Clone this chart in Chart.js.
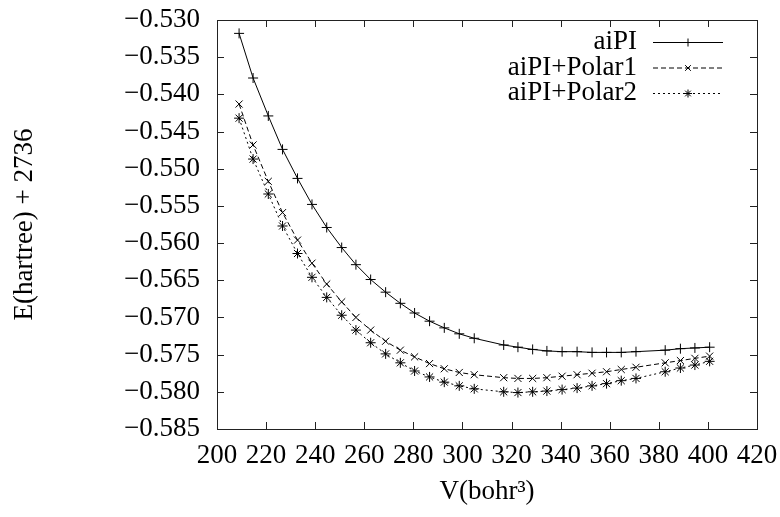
<!DOCTYPE html>
<html lang="en">
<head>
    <meta charset="UTF-8">
    <title>E vs V</title>
    <script src="https://cdn.jsdelivr.net/npm/chart.js"></script>
    <style>
        html, body {
            margin: 0;
            padding: 0;
            background: #ffffff;
        }
        #plot {
            display: block;
        }
    </style>
</head>
<body>
    <canvas id="plot" width="780" height="517"></canvas>

    <script>
        // Cell volumes (bohr^3) and total energies (hartree, shifted by +2736)
        const volumes = [209.0, 214.7, 220.9, 226.7, 232.8, 238.7, 244.7, 250.8, 256.6, 262.6,
                         268.7, 274.7, 280.5, 286.6, 292.6, 298.7, 304.8, 316.8, 322.6, 328.6,
                         334.4, 340.6, 346.7, 352.8, 358.7, 364.7, 370.7, 382.6, 388.8, 394.7, 400.7];

        const aiPI = [-0.5318, -0.5378, -0.5429, -0.5474, -0.5513, -0.5548, -0.5579, -0.5606, -0.5629, -0.5649,
                      -0.5666, -0.5681, -0.5694, -0.5705, -0.5714, -0.5722, -0.5728, -0.5737, -0.5740, -0.5743,
                      -0.5745, -0.5746, -0.5746, -0.5747, -0.5747, -0.5747, -0.5746, -0.5744, -0.5742, -0.5741, -0.5740];

        const polar1 = [-0.5413, -0.5468, -0.5517, -0.5559, -0.5596, -0.5627, -0.5655, -0.5679, -0.5700, -0.5717,
                        -0.5732, -0.5744, -0.5753, -0.5762, -0.5769, -0.5774, -0.5777, -0.5781, -0.5782, -0.5782,
                        -0.5781, -0.5779, -0.5777, -0.5775, -0.5773, -0.5770, -0.5767, -0.5761, -0.5758, -0.5755, -0.5752];

        const polar2 = [-0.5432, -0.5487, -0.5534, -0.5577, -0.5614, -0.5646, -0.5673, -0.5697, -0.5717, -0.5734,
                        -0.5749, -0.5761, -0.5772, -0.5780, -0.5787, -0.5792, -0.5796, -0.5800, -0.5801, -0.5800,
                        -0.5799, -0.5797, -0.5795, -0.5792, -0.5789, -0.5785, -0.5782, -0.5773, -0.5768, -0.5764, -0.5759];

        const seriesNames = ['aiPI', 'aiPI+Polar1', 'aiPI+Polar2'];

        const xTicks = [200, 220, 240, 260, 280, 300, 320, 340, 360, 380, 400, 420];
        const yTicks = [-0.585, -0.580, -0.575, -0.570, -0.565, -0.560, -0.555, -0.550, -0.545, -0.540, -0.535, -0.530];

        const FONT = { family: '"Liberation Serif", "Times New Roman", serif', size: 27 };
        const INK = '#000000';

        function toPoints(ys) {
            return volumes.map((v, i) => ({ x: v, y: ys[i] }));
        }

        function fmtEnergy(v) {
            const s = Math.abs(v).toFixed(3);
            return v < 0 ? '\u2212' + s : s;
        }

        // box around the plot with inward ticks on all four sides
        const frameTicks = {
            id: 'frameTicks',
            afterDatasetsDraw(chart) {
                const { ctx, chartArea: a, scales } = chart;
                const len = 7;
                ctx.save();
                ctx.strokeStyle = '#222';
                ctx.lineWidth = 1;
                ctx.setLineDash([]);
                ctx.strokeRect(Math.round(a.left) + 0.5, Math.round(a.top) + 0.5,
                               Math.round(a.right - a.left), Math.round(a.bottom - a.top));
                ctx.beginPath();
                scales.x.ticks.forEach(t => {
                    const px = Math.round(scales.x.getPixelForValue(t.value)) + 0.5;
                    ctx.moveTo(px, a.bottom); ctx.lineTo(px, a.bottom - len);
                    ctx.moveTo(px, a.top); ctx.lineTo(px, a.top + len);
                });
                scales.y.ticks.forEach(t => {
                    const py = Math.round(scales.y.getPixelForValue(t.value)) + 0.5;
                    ctx.moveTo(a.left, py); ctx.lineTo(a.left + len, py);
                    ctx.moveTo(a.right, py); ctx.lineTo(a.right - len, py);
                });
                ctx.stroke();
                ctx.restore();
            }
        };

        // gnuplot-style key: right-aligned text followed by a line sample
        const keyBox = {
            id: 'keyBox',
            afterDatasetsDraw(chart) {
                const { ctx, chartArea: a } = chart;
                const textRight = a.right - 120;
                const x0 = a.right - 104, x1 = a.right - 34;
                chart.data.datasets.forEach((ds, i) => {
                    const y = a.top + 22 + i * 25.5;
                    ctx.save();
                    ctx.font = FONT.size + 'px ' + FONT.family;
                    ctx.fillStyle = INK;
                    ctx.textAlign = 'right';
                    ctx.textBaseline = 'middle';
                    ctx.fillText(ds.label, textRight, y);
                    ctx.strokeStyle = INK;
                    ctx.lineWidth = 1;
                    ctx.setLineDash(ds.borderDash || []);
                    ctx.beginPath();
                    ctx.moveTo(x0, y + 0.5);
                    ctx.lineTo(x1, y + 0.5);
                    ctx.stroke();
                    ctx.setLineDash([]);
                    if (Chart.helpers && Chart.helpers.drawPoint) {
                        Chart.helpers.drawPoint(ctx, {
                            pointStyle: ds.pointStyle, radius: 4, borderWidth: 1, rotation: 0
                        }, (x0 + x1) / 2, y + 0.5);
                    }
                    ctx.restore();
                });
            }
        };

        const lineStyles = [
            { dash: [], point: 'cross' },
            { dash: [5, 3], point: 'crossRot' },
            { dash: [2, 3], point: 'star' }
        ];

        const datasets = [aiPI, polar1, polar2].map((ys, i) => ({
            label: seriesNames[i],
            data: toPoints(ys),
            borderColor: INK,
            backgroundColor: 'transparent',
            borderWidth: 1,
            borderDash: lineStyles[i].dash,
            pointStyle: lineStyles[i].point,
            pointRadius: 5,
            pointBorderWidth: 1,
            pointBorderColor: INK,
            pointBackgroundColor: 'transparent',
            tension: 0,
            fill: false
        }));

        new Chart(document.getElementById('plot'), {
            type: 'line',
            data: { datasets: datasets },
            plugins: [frameTicks, keyBox],
            options: {
                responsive: false,
                animation: false,
                devicePixelRatio: 1,
                layout: { padding: { top: 20, right: 23, left: 0, bottom: 0 } },
                plugins: {
                    legend: { display: false },
                    tooltip: { enabled: false }
                },
                scales: {
                    x: {
                        type: 'linear',
                        min: 200,
                        max: 420,
                        afterBuildTicks: s => { s.ticks = xTicks.map(v => ({ value: v })); },
                        afterFit: s => {
                            s.height = 88;
                            s.paddingLeft = 0;
                            s.paddingRight = 0;
                        },
                        grid: { display: false, drawTicks: false },
                        border: { display: false },
                        ticks: {
                            color: INK,
                            font: FONT,
                            padding: 11,
                            maxRotation: 0,
                            autoSkip: false,
                            callback: v => String(v)
                        },
                        title: {
                            display: true,
                            text: 'V(bohr\u00B3)',
                            color: INK,
                            font: FONT,
                            padding: { top: 0, bottom: 9 }
                        }
                    },
                    y: {
                        type: 'linear',
                        min: -0.585,
                        max: -0.530,
                        afterBuildTicks: s => { s.ticks = yTicks.map(v => ({ value: v })); },
                        afterFit: s => {
                            s.width = 217;
                            s.paddingTop = 0;
                            s.paddingBottom = 0;
                        },
                        grid: { display: false, drawTicks: false },
                        border: { display: false },
                        ticks: {
                            color: INK,
                            font: FONT,
                            padding: 17,
                            autoSkip: false,
                            callback: v => fmtEnergy(v)
                        },
                        title: {
                            display: true,
                            text: 'E(hartree) + 2736',
                            color: INK,
                            font: FONT,
                            padding: { top: 9, bottom: 0 }
                        }
                    }
                }
            }
        });
    </script>
</body>
</html>
